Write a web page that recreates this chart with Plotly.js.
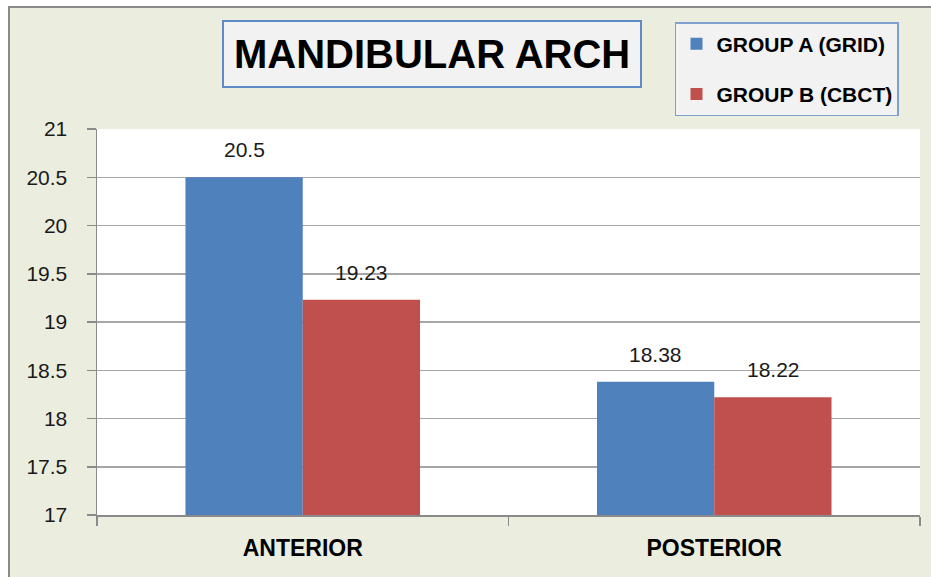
<!DOCTYPE html>
<html>
<head>
<meta charset="utf-8">
<script src="https://cdn.plot.ly/plotly-3.0.1.min.js"></script>
<style>
  html, body { margin: 0; padding: 0; background: #ffffff; }
  #frame { position: absolute; left: 8px; top: 6px; width: 940px; height: 590px;
           background: #EBEEDF; border-left: 2.5px solid #8A8A8A; border-top: 2.5px solid #8A8A8A; }
  #chart { position: absolute; left: 0; top: 0; width: 931px; height: 577px; }
</style>
</head>
<body>
<div id="frame"></div>
<div id="chart"></div>
<script>
const categories = ["ANTERIOR", "POSTERIOR"];
const seriesNames = ["GROUP A (GRID)", "GROUP B (CBCT)"];
const groupA = [20.5, 18.38];
const groupB = [19.23, 18.22];
const labelsA = ["20.5", "18.38"];
const labelsB = ["19.23", "18.22"];
const yTicks = [17, 17.5, 18, 18.5, 19, 19.5, 20, 20.5, 21];

const FONT = "Liberation Sans, Arial, sans-serif";
const BLUE = "#4F81BD";
const RED = "#C0504D";

const traces = [
  { type: "bar", name: seriesNames[0], x: categories, y: groupA,
    marker: { color: BLUE }, legendgroup: "a", hoverinfo: "skip" },
  { type: "bar", name: seriesNames[1], x: categories, y: groupB,
    marker: { color: RED }, legendgroup: "b", hoverinfo: "skip" }
];

const annotations = [];
function addLabels(vals, texts, shift) {
  vals.forEach((v, i) => {
    annotations.push({ x: categories[i], y: v, xref: "x", yref: "y", text: texts[i],
      showarrow: false, xanchor: "center", yanchor: "bottom", xshift: shift, yshift: 14,
      font: { family: FONT, size: 21, color: "#1a1a1a" } });
  });
}
addLabels(groupA, labelsA, -58.75);
addLabels(groupB, labelsB, 58.75);

annotations.push({
  text: "<b>MANDIBULAR ARCH</b>", xref: "paper", yref: "paper",
  x: 0.4076, y: 1.194, xanchor: "center", yanchor: "middle", showarrow: false,
  font: { family: FONT, size: 40, color: "#000000" },
  bgcolor: "#F2F2F2", bordercolor: "#5F8BC6", borderwidth: 2, borderpad: 10
});

const layout = {
  width: 931, height: 577,
  margin: { l: 97, r: 11, t: 129, b: 62 },
  paper_bgcolor: "rgba(0,0,0,0)",
  plot_bgcolor: "#FFFFFF",
  barmode: "group",
  bargap: 0.43,
  bargroupgap: 0,
  showlegend: true,
  legend: {
    x: 0.7023, y: 1.277, xanchor: "left", yanchor: "top",
    bgcolor: "#F2F2F2", bordercolor: "#7FA0CF", borderwidth: 1.5,
    font: { family: FONT, size: 21, color: "#000000", weight: "bold" },
    traceorder: "grouped", tracegroupgap: 20, itemclick: false, itemwidth: 30
  },
  xaxis: {
    type: "category", tickson: "boundaries", ticks: "outside", ticklen: 9,
    tickcolor: "#8A8A8A", tickwidth: 1.5, showline: true, linecolor: "#8A8A8A", linewidth: 1.5,
    showgrid: false, ticklabelstandoff: 12,
    tickfont: { family: FONT, size: 23, color: "#000000", weight: "bold" },
    fixedrange: true
  },
  yaxis: {
    range: [17, 21], tickvals: yTicks, ticktext: yTicks.map(String),
    ticks: "outside", ticklen: 9, tickcolor: "#8A8A8A", tickwidth: 1.5,
    showline: true, linecolor: "#8A8A8A", linewidth: 1.5,
    showgrid: true, gridcolor: "#A6A6A6", gridwidth: 1.5, zeroline: false,
    ticklabelstandoff: 15,
    tickfont: { family: FONT, size: 21, color: "#1a1a1a" },
    fixedrange: true
  },
  annotations: annotations
};

Plotly.newPlot("chart", traces, layout, { displayModeBar: false, staticPlot: true });
</script>
</body>
</html>
